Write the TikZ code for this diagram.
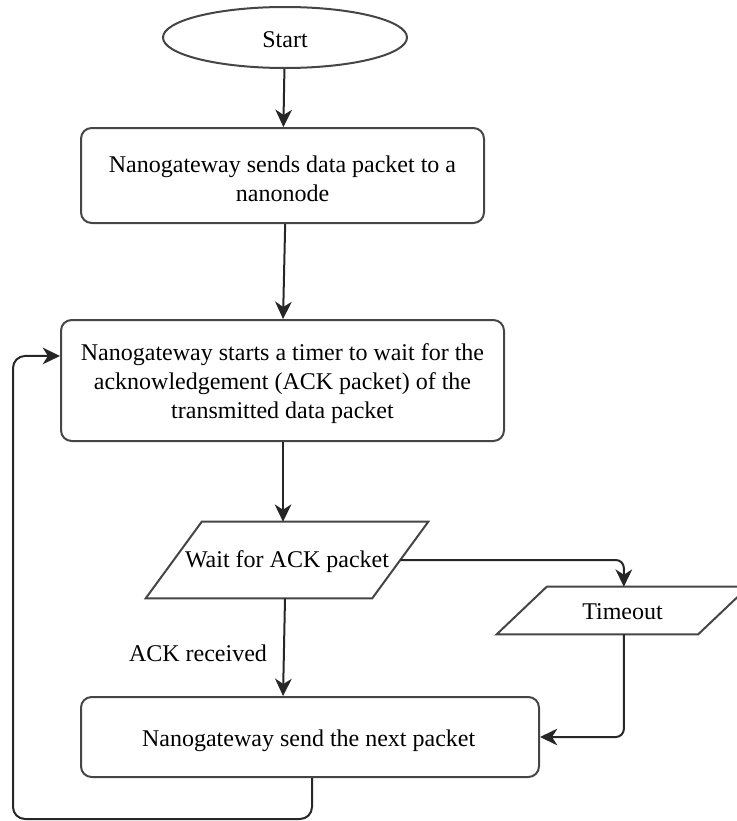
\documentclass[tikz,border=0pt]{standalone}
\usepackage{fontspec}
\setmainfont{Liberation Serif}
\usetikzlibrary{arrows.meta,shapes.geometric}
\definecolor{edge}{HTML}{454545}
\definecolor{wire}{HTML}{262626}
% outline of a slanted input/output block around a body-sized node
\newcommand{\slantframe}[2]{%
  \draw[edge, line width=1.5pt, line join=miter]
    ([xshift=#2]#1.north west) -- ([xshift=#2]#1.north east) --
    ([xshift=-#2]#1.south east) -- ([xshift=-#2]#1.south west) -- cycle;}
\begin{document}
\begin{tikzpicture}[x=0.75pt,y=-0.75pt,
  every node/.style={font=\fontsize{18}{21.75}\selectfont, text=black},
  box/.style={draw=edge, line width=1.5pt, rounded corners=8pt, inner sep=0pt},
  boxtext/.style={align=center, inner sep=0pt},
  oval/.style={draw=edge, line width=1.5pt, ellipse, inner sep=0pt},
  iobody/.style={inner sep=0pt},
  arr/.style={draw=wire, line width=1.5pt, -{Stealth[length=13pt, width=12.5pt, inset=4pt]}},
  elbow/.style={arr, rounded corners=6pt}
]
\path[use as bounding box] (0,0) rectangle (737,821);

% start terminal
\node[oval, minimum width={244*0.75pt}, minimum height={61*0.75pt}] (start) at (285,37.5) {};
\node[boxtext] (starttxt) at ([yshift=-1.5pt]start.center) {Start};

% process boxes
\node[box, minimum width={403*0.75pt}, minimum height={95*0.75pt}] (send) at (282.5,175.5) {};
\node[boxtext] (sendtxt) at ([yshift=-2.5pt]send.center) {Nanogateway sends data packet to a\\nanonode};

\node[box, minimum width={443*0.75pt}, minimum height={121*0.75pt}] (timer) at (282.5,380.5) {};
\node[boxtext] (timertxt) at ([yshift=-2.5pt]timer.center)
  {Nanogateway starts a timer to wait for the\\acknowledgement (ACK packet) of the\\transmitted data packet};

\node[box, minimum width={458*0.75pt}, minimum height={80*0.75pt}] (next) at (310,737) {};
\node[boxtext] (nexttxt) at ([xshift=-1pt,yshift=-3pt]next.center) {Nanogateway send the next packet};

% input/output blocks
\node[iobody, minimum width={226*0.75pt}, minimum height={76*0.75pt}] (wait) at (287,560) {};
\slantframe{wait}{21pt}
\node[boxtext] (waittxt) at ([yshift=-1.5pt]wait.center) {Wait for ACK packet};

\node[iobody, minimum width={201*0.75pt}, minimum height={47*0.75pt}] (timeout) at (622.5,610.5) {};
\slantframe{timeout}{18.75pt}
\node[boxtext] (timeouttxt) at ([yshift=-1pt]timeout.center) {Timeout};

\node (acklbl) at (198,653) {ACK received};

% connectors
\draw[arr] (start) -- (send);
\draw[arr] ([xshift=2pt]send.south) -- ([xshift=0.4pt]timer.north);
\draw[arr] ([xshift=0.4pt]timer.south) -- ([xshift=0.4pt]timer.south |- wait.north);
\draw[arr] ([xshift=-1.5pt]wait.south) -- ([xshift=0.4pt]timer.south |- next.north);
\draw[elbow] (wait.east) -| ([xshift=1pt]timeout.north);
\draw[elbow] ([xshift=1pt]timeout.south) |- (next.east);
\coordinate (loopcorner) at (13,819);
\draw[arr, rounded corners=9pt] ([xshift=1.5pt]next.south) |- (loopcorner) |- ([yshift=18.4pt]timer.west);
\end{tikzpicture}
\end{document}
